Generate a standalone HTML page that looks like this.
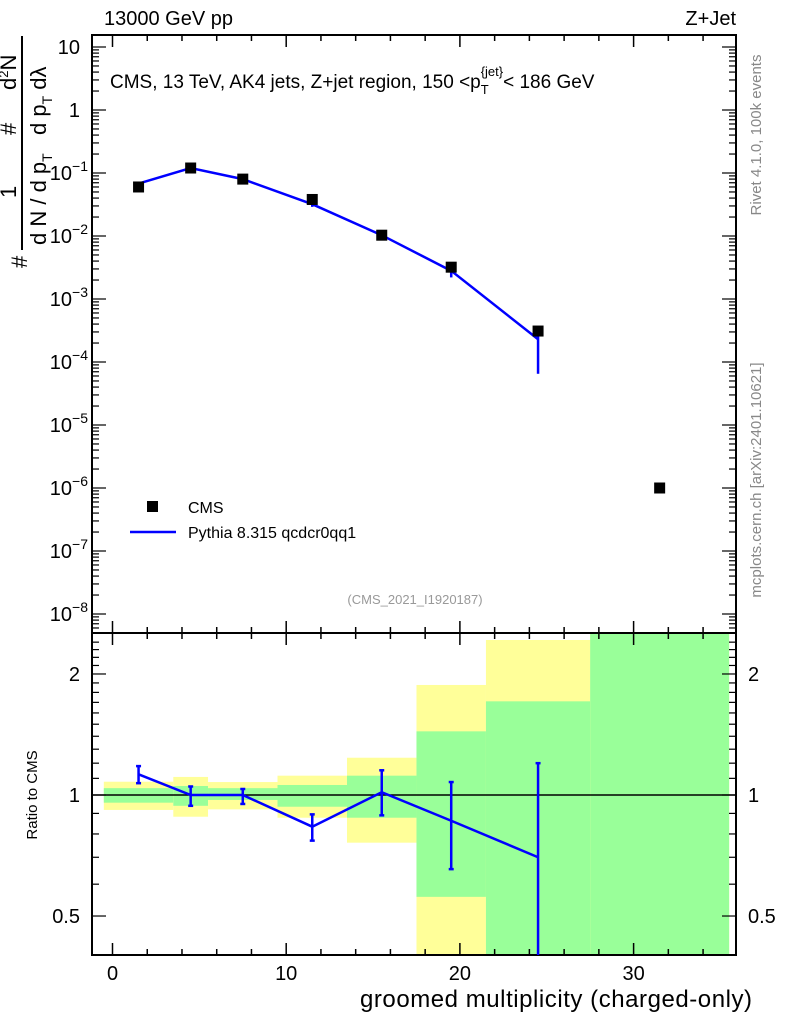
<!DOCTYPE html>
<html><head><meta charset="utf-8"><style>
html,body{margin:0;padding:0;background:#fff;}
svg{display:block;font-family:"Liberation Sans",sans-serif;}
</style></head><body>
<svg id="chart" width="786" height="1024" viewBox="0 0 786 1024" xmlns="http://www.w3.org/2000/svg">
<rect width="786" height="1024" fill="#fff"/>
<g id="bands"></g>
<g id="axes"></g>
<g id="marks"></g>
<text x="104" y="25" font-size="20">13000 GeV pp</text>
<text x="736" y="25" font-size="20" text-anchor="end">Z+Jet</text>
<text x="110" y="88" font-size="19">CMS, 13 TeV, AK4 jets, Z+jet region, 150 &lt;p<tspan font-size="13" dy="6">T</tspan><tspan font-size="13" dx="-8" dy="-18">{jet}</tspan><tspan dy="12">&lt; 186 GeV</tspan></text>
<text x="415" y="604" font-size="13" fill="#999" text-anchor="middle">(CMS_2021_I1920187)</text>
<text transform="translate(761,135) rotate(-90)" font-size="15" fill="#888" text-anchor="middle">Rivet 4.1.0,  100k events</text>
<text transform="translate(761,480) rotate(-90)" font-size="15" fill="#888" text-anchor="middle">mcplots.cern.ch [arXiv:2401.10621]</text>
<text transform="translate(37,795) rotate(-90)" font-size="15" text-anchor="middle">Ratio to CMS</text>
<text x="752" y="1007" font-size="24" text-anchor="end" textLength="392">groomed multiplicity (charged-only)</text>
<g font-size="22">
  <line x1="22" y1="36" x2="22" y2="250" stroke="#000" stroke-width="2"/>
  <text transform="translate(27,268) rotate(-90)">#</text>
  <text transform="translate(16,198) rotate(-90)">1</text>
  <text transform="translate(46,245) rotate(-90)">d N / d p<tspan font-size="14" dy="6">T</tspan></text>
  <text transform="translate(16,135) rotate(-90)">#</text>
  <text transform="translate(16,90) rotate(-90)">d<tspan font-size="13" dy="-8">2</tspan><tspan dy="8">N</tspan></text>
  <text transform="translate(46,135) rotate(-90)">d p<tspan font-size="14" dy="6">T</tspan><tspan dy="-6"> dλ</tspan></text>
</g>
<g>
  <rect x="147" y="501" width="11" height="11" fill="#000"/>
  <text x="188" y="513" font-size="16">CMS</text>
  <line x1="130" y1="532" x2="176" y2="532" stroke="#0000ff" stroke-width="2.5"/>
  <text x="188" y="538" font-size="16">Pythia 8.315 qcdcr0qq1</text>
</g>
</svg>
<script>
const binEdges=[-0.5,3.5,5.5,9.5,13.5,17.5,21.5,27.5,35.5];
const binCenters=[1.5,4.5,7.5,11.5,15.5,19.5,24.5,31.5];
const cmsValues=[0.06,0.12,0.08,0.038,0.0103,0.0032,0.00031,1.0e-6];
const mcValues=[0.068,0.12,0.08,0.032,0.0103,0.0028,0.00023];
const mcErrLow=[0.064,0.115,0.077,0.029,0.0097,0.0022,0.000065];
const mcErrHigh=[0.072,0.125,0.083,0.035,0.011,0.0034,0.00035];
const ratioValues=[1.126,1.0,1.0,0.834,1.016,0.863,0.70];
const ratioLow=[1.07,0.94,0.95,0.77,0.89,0.654,0.3];
const ratioHigh=[1.18,1.05,1.035,0.895,1.152,1.077,1.2];
const yellowLow=[0.918,0.883,0.921,0.878,0.761,0.3,0.3,0.01];
const yellowHigh=[1.079,1.109,1.077,1.117,1.238,1.878,2.43,100];
const greenLow=[0.957,0.94,0.972,0.935,0.878,0.558,0.3,0.01];
const greenHigh=[1.04,1.053,1.04,1.059,1.117,1.44,1.71,100];
const xTicks=[0,10,20,30];
const mainYExp=[1,0,-1,-2,-3,-4,-5,-6,-7,-8];
const ratioTicks=[0.5,1,2];

const NS="http://www.w3.org/2000/svg";
const L=92,R=736,T1=35,B1=633,T2=633,B2=955;
const X=v=>112.5+17.37*v;
const Y=v=>110-63*Math.log10(v);
const YR=v=>795-402*Math.log10(v);
const clampR=y=>Math.max(T2,Math.min(B2,y));
function mk(tag,attrs,parent){const e=document.createElementNS(NS,tag);for(const k in attrs)e.setAttribute(k,attrs[k]);parent.appendChild(e);return e;}
const axes=document.getElementById('axes'),marks=document.getElementById('marks'),bands=document.getElementById('bands');

for(let i=0;i<binEdges.length-1;i++){
  const x0=X(binEdges[i]),x1=Math.min(X(binEdges[i+1]),R-6);
  const yt=clampR(YR(yellowHigh[i])),yb=clampR(YR(yellowLow[i]));
  const r1=mk('rect',{x:x0,y:yt,width:x1-x0,height:yb-yt,fill:'#ffff99'},bands);
  
  
  const gt=clampR(YR(greenHigh[i])),gb=clampR(YR(greenLow[i]));
  const r2=mk('rect',{x:x0,y:gt,width:x1-x0,height:gb-gt,fill:'#99ff99'},bands);
  
  
}
const one=mk('line',{x1:L,x2:R,y1:YR(1),y2:YR(1),stroke:'#000','stroke-width':1.5},axes);



for(const [t,b,nm] of [[T1,B1,'main-frame'],[T2,B2,'ratio-frame']]){
  const f=mk('rect',{x:L,y:t,width:R-L,height:b-t,fill:'none',stroke:'#000','stroke-width':2},axes);
  
  
}
for(let v=-1;v<=35;v++){
  const x=X(v);if(x<L||x>R)continue;
  const major=v%10===0, minor=v%2===0;
  if(!major&&!minor)continue;
  const len=major?12:6;
  for(const [yy,d] of [[T1,1],[B1,-1],[T2,1],[B2,-1]]){
    mk('line',{x1:x,x2:x,y1:yy,y2:yy+d*len,stroke:'#000','stroke-width':1.5},axes);
  }
}
xTicks.forEach(v=>{
  const t=mk('text',{x:X(v),y:980,'font-size':20,'text-anchor':'middle'},axes);
  t.textContent=v;
  
  
});
for(let e=-9;e<=1;e++){
  for(let m=1;m<=9;m++){
    const y=Y(m*Math.pow(10,e));if(y<T1||y>B1)continue;
    const len=m===1?14:7;
    mk('line',{x1:L,x2:L+len,y1:y,y2:y,stroke:'#000','stroke-width':1.2},axes);
    mk('line',{x1:R,x2:R-len,y1:y,y2:y,stroke:'#000','stroke-width':1.2},axes);
  }
}
mainYExp.forEach(e=>{
  const t=mk('text',{x:80,y:Y(Math.pow(10,e))+7,'font-size':20,'text-anchor':'end'},axes);
  
  
  if(e===1)t.textContent='10';
  else if(e===0)t.textContent='1';
  else{t.textContent='10';const s=mk('tspan',{dy:-9,'font-size':14},t);s.textContent='\u2212'+(-e);}
  if(e<0)t.setAttribute('x',88);
});
for(let r=0.4;r<=2.5;r+=0.1){
  const y=YR(r);if(y<T2||y>B2)continue;
  const major=[0.5,1,2].some(q=>Math.abs(q-r)<1e-6);
  const len=major?14:7;
  mk('line',{x1:L,x2:L+len,y1:y,y2:y,stroke:'#000','stroke-width':1.2},axes);
  mk('line',{x1:R,x2:R-len,y1:y,y2:y,stroke:'#000','stroke-width':1.2},axes);
}
ratioTicks.forEach(r=>{
  const t1=mk('text',{x:80,y:YR(r)+7,'font-size':20,'text-anchor':'end'},axes);
  t1.textContent=r;
  
  
  const t2=mk('text',{x:748,y:YR(r)+7,'font-size':20},axes);
  t2.textContent=r;
  
  
});
const mcPts=mcValues.map((v,i)=>X(binCenters[i])+','+Y(v)).join(' ');
const mcl=mk('polyline',{points:mcPts,fill:'none',stroke:'#0000ff','stroke-width':2.5},marks);


mcValues.forEach((v,i)=>{
  const x=X(binCenters[i]);
  const e=mk('line',{x1:x,x2:x,y1:Y(mcErrHigh[i]),y2:Y(mcErrLow[i]),stroke:'#0000ff','stroke-width':2.5},marks);
  
  
});
cmsValues.forEach((v,i)=>{
  const x=X(binCenters[i]),y=Y(v);
  const r=mk('rect',{x:x-5.5,y:y-5.5,width:11,height:11,fill:'#000'},marks);
  
  
});
const rPts=ratioValues.map((v,i)=>X(binCenters[i])+','+YR(v)).join(' ');
const rl=mk('polyline',{points:rPts,fill:'none',stroke:'#0000ff','stroke-width':2.5},marks);


ratioValues.forEach((v,i)=>{
  const x=X(binCenters[i]);
  const yt=clampR(YR(ratioHigh[i])),yb=clampR(YR(ratioLow[i]));
  const e=mk('line',{x1:x,x2:x,y1:yt,y2:yb,stroke:'#0000ff','stroke-width':2.5},marks);
  
  
  for(const yy of [yt,yb]){ if(yy>T2&&yy<B2) mk('line',{x1:x-2.5,x2:x+2.5,y1:yy,y2:yy,stroke:'#0000ff','stroke-width':2.5},marks); }
});
</script>
</body></html>
